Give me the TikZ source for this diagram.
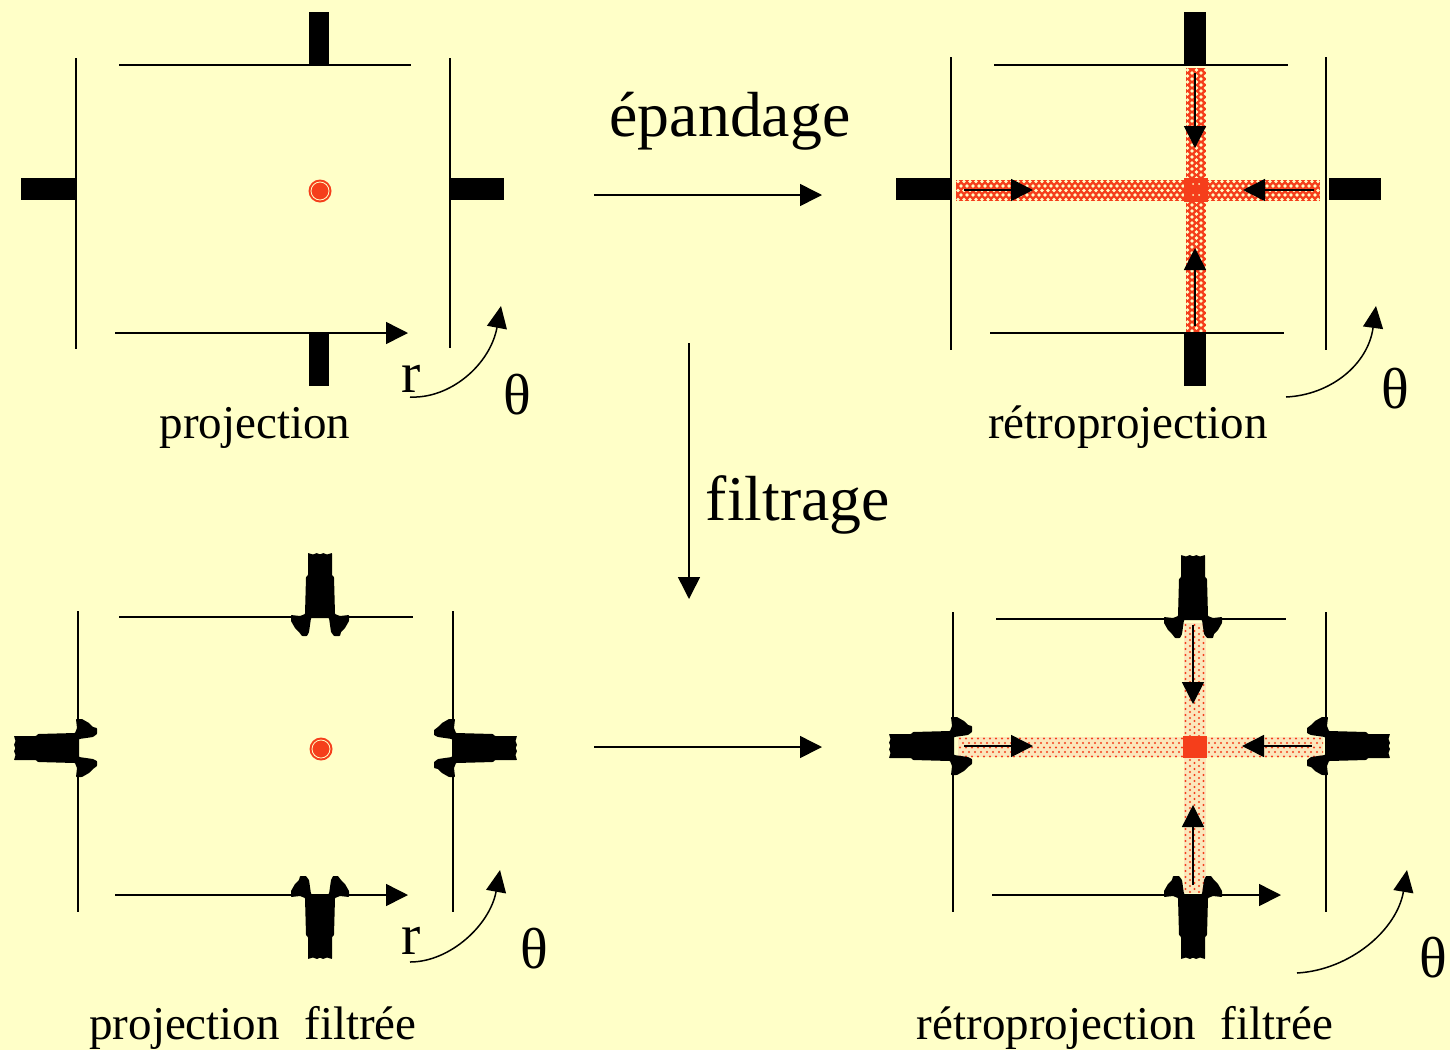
\documentclass[tikz,border=0pt]{standalone}
\usepackage{fontspec}
\setmainfont{Liberation Serif}
\usetikzlibrary{arrows.meta}
\definecolor{bgc}{HTML}{FFFFC8}
\definecolor{redc}{HTML}{F53E1B}
\definecolor{palec}{HTML}{FBE7BC}
\tikzset{
  x=1bp,y=-1bp,
  thin line/.style={line width=1.5bp,black},
  arr/.style={line width=1.5bp,black,-{Triangle[length=22bp,width=22bp]}},
  curvearr/.style={line width=1.5bp,black,-{Triangle[length=22bp,width=20bp]}},
  big/.style={font=\fontsize{64}{64}\selectfont,anchor=base,inner sep=0pt},
  mid/.style={font=\fontsize{47.2}{47.2}\selectfont,anchor=base,inner sep=0pt},
  sym/.style={font=\fontsize{58}{58}\selectfont,anchor=base,inner sep=0pt},
  bar/.style={fill=black,draw=none},
  filt/.pic={
    \fill[black,rounded corners=0.6bp] (-12,-64)--(-7,-62.5)--(-3,-64)--(0,-62.5)--(3,-64)--(7,-62.5)--(12,-64)--(12,-42)--(14,-40)--(15,-3)--(20,-1)--(29,-2)--(29,4)--(25,11)--(21,15)--(20,19)--(14,19)--(11,15)--(9,1)--(-9,1)--(-11,15)--(-13,19)--(-18,19)--(-21,15)--(-25,11)--(-29,4)--(-29,-2)--(-20,-1)--(-15,-3)--(-14,-40)--(-12,-42)--cycle;
  },
}
\newcommand{\dotband}[7]{% x1 y1 x2 y2 fillcolor dotcolor radius
  \begin{scope}
    \clip (#1,#2) rectangle (#3,#4);
    \fill[#5] (#1,#2) rectangle (#3,#4);
    \foreach \i in {0,...,61}{
      \foreach \j in {0,...,4}{
        \fill[#6] ({#1+2+6*\i+3*mod(\j,2)},{#2+1.5+4.5*\j}) circle (#7);
      }
    }
  \end{scope}
}
\newcommand{\dotbandv}[7]{%
  \begin{scope}
    \clip (#1,#2) rectangle (#3,#4);
    \fill[#5] (#1,#2) rectangle (#3,#4);
    \foreach \j in {0,...,44}{
      \foreach \i in {0,...,4}{
        \fill[#6] ({#1+1.5+4.5*\i},{#2+2+6*\j+3*mod(\i,2)}) circle (#7);
      }
    }
  \end{scope}
}
\begin{document}
\begin{tikzpicture}
\useasboundingbox (0,0) rectangle (1450,1050);
\fill[bgc] (0,0) rectangle (1450,1050);

% ---------- top left: projection
\draw[thin line] (119,65)--(411,65);
\draw[thin line] (76,58)--(76,349);
\draw[thin line] (450,58)--(450,348);
\fill[bar] (309,12) rectangle (329,65);
\fill[bar] (309,333) rectangle (329,386);
\fill[bar] (21,178) rectangle (76,200);
\fill[bar] (450,178) rectangle (504,200);
\fill[redc] (320,191) circle (11.5bp);
\draw[bgc,line width=0.8bp] (320,191) circle (9bp);
\coordinate (a1s) at (115,333); \coordinate (a1e) at (408,333);
\draw[arr] (a1s)--(a1e);
\coordinate (c1s) at (410,397); \coordinate (c1e) at (501,306);
\draw[curvearr] (c1s) .. controls (450,399) and (490,365) .. (c1e);
\node[sym] (r1) at (411,392) {r};
\node[sym] (t1) at (517,414) {θ};
\node[mid] (l1) at (255,438) {projection};

% ---------- top right: retroprojection
\dotband{956}{180}{1320}{201}{redc}{bgc}{1.85bp}
\dotbandv{1186}{68}{1206}{333}{redc}{bgc}{1.85bp}
\fill[redc] (1184,178) rectangle (1208,202);
\fill[bgc] (1193,184) circle (1bp) (1199,184) circle (1bp) (1193,195) circle (1bp) (1199,195) circle (1bp);
\draw[thin line] (994,65)--(1288,65);
\draw[thin line] (990,333)--(1284,333);
\draw[thin line] (951,57)--(951,350);
\draw[thin line] (1326,57)--(1326,350);
\fill[bar] (1184,12) rectangle (1206,65);
\fill[bar] (1184,333) rectangle (1206,386);
\fill[bar] (896,178) rectangle (951,200);
\fill[bar] (1329,178) rectangle (1381,200);
\coordinate (a2s) at (1195,73); \coordinate (a2e) at (1195,148);
\coordinate (a3s) at (1195,326); \coordinate (a3e) at (1195,248);
\coordinate (a4s) at (964,190); \coordinate (a4e) at (1033,190);
\coordinate (a5s) at (1314,190); \coordinate (a5e) at (1243,190);
\draw[arr] (a2s)--(a2e);
\draw[arr] (a3s)--(a3e);
\draw[arr] (a4s)--(a4e);
\draw[arr] (a5s)--(a5e);
\coordinate (c2s) at (1286,397); \coordinate (c2e) at (1376,306);
\draw[curvearr] (c2s) .. controls (1330,395) and (1368,365) .. (c2e);
\node[sym] (t2) at (1395,408) {θ};
\node[mid] (l2) at (1128,438) {rétroprojection};

% ---------- bottom left: filtered projection
\draw[thin line] (119,617)--(413,617);
\draw[thin line] (78,611)--(78,912);
\draw[thin line] (453,611)--(453,912);
\coordinate (a6s) at (115,895); \coordinate (a6e) at (408,895);
\draw[arr] (a6s)--(a6e);
\pic at (320,617) {filt};
\pic at (320,895) [rotate=180] {filt};
\pic at (78,748) [rotate=90] {filt};
\pic at (453,748) [rotate=-90] {filt};
\fill[redc] (321,749) circle (11.5bp);
\draw[bgc,line width=0.8bp] (321,749) circle (9bp);
\coordinate (c3s) at (410,962); \coordinate (c3e) at (500,870);
\draw[curvearr] (c3s) .. controls (450,962) and (490,925) .. (c3e);
\node[sym] (r2) at (411,954) {r};
\node[sym] (t3) at (534,968) {θ};
\node[mid] (l3) at (253,1039) {projection\hspace{0.27em} filtrée};

% ---------- bottom right: filtered retroprojection
\dotband{958}{737}{1323}{757}{palec}{redc}{1.1bp}
\dotbandv{1184}{623}{1206}{893}{palec}{redc}{1.1bp}
\fill[redc] (1183,736) rectangle (1207,758);
\draw[thin line] (996,619)--(1286,619);
\coordinate (a7s) at (992,895); \coordinate (a7e) at (1281,895);
\draw[arr] (a7s)--(a7e);
\draw[thin line] (953,612)--(953,912);
\draw[thin line] (1326,612)--(1326,912);
\pic at (1193,619) {filt};
\pic at (1193,895) [rotate=180] {filt};
\pic at (953,746) [rotate=90] {filt};
\pic at (1326,746) [rotate=-90] {filt};
\coordinate (a8s) at (1193,625); \coordinate (a8e) at (1193,704);
\coordinate (a9s) at (1193,885); \coordinate (a9e) at (1193,805);
\coordinate (a10s) at (964,746); \coordinate (a10e) at (1033,746);
\coordinate (a11s) at (1312,746); \coordinate (a11e) at (1242,746);
\draw[arr] (a8s)--(a8e);
\draw[arr] (a9s)--(a9e);
\draw[arr] (a10s)--(a10e);
\draw[arr] (a11s)--(a11e);
\coordinate (c4s) at (1297,973); \coordinate (c4e) at (1407,870);
\draw[curvearr] (c4s) .. controls (1350,970) and (1397,930) .. (c4e);
\node[sym] (t4) at (1433,977) {θ};
\node[mid] (l4) at (1125,1039) {rétroprojection\hspace{0.27em} filtrée};

% ---------- between panels
\coordinate (m1s) at (594,195); \coordinate (m1e) at (822,195);
\coordinate (m2s) at (594,747); \coordinate (m2e) at (822,747);
\coordinate (m3s) at (689,343); \coordinate (m3e) at (689,599);
\draw[arr] (m1s)--(m1e);
\draw[arr] (m2s)--(m2e);
\draw[arr] (m3s)--(m3e);
\node[big] (e1) at (730,136) {épandage};
\node[big] (f1) at (798,520) {filtrage};
\end{tikzpicture}
\end{document}
